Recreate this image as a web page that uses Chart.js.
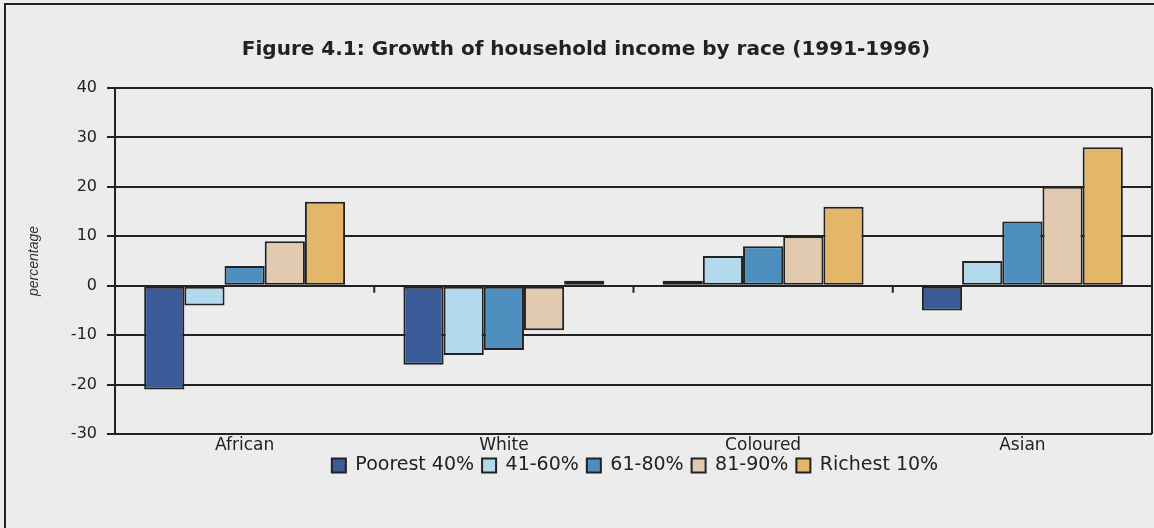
<!DOCTYPE html>
<html>
<head>
<meta charset="utf-8">
<title>Growth of household income by race</title>
<script src="https://cdn.jsdelivr.net/npm/chart.js@4.4.1/dist/chart.umd.min.js"></script>
<style>
  html, body { margin: 0; padding: 0; background: #ececec; }
  #incomeChart { display: block; }
</style>
</head>
<body>
<canvas id="incomeChart" width="1154" height="528"></canvas>
<script>
// categories and income-group series (percentage growth 1991-1996)
const races = ['African', 'White', 'Coloured', 'Asian'];
const groupLabels = ['Poorest 40%', '41-60%', '61-80%', '81-90%', 'Richest 10%'];
const poorest40 = [-21, -16, 1, -5];
const mid41to60 = [-4, -14, 6, 5];
const mid61to80 = [4, -13, 8, 13];
const upper81to90 = [9, -9, 10, 20];
const richest10 = [17, 1, 16, 28];
const yTickValues = [-30, -20, -10, 0, 10, 20, 30, 40];

const groupColours = ['#3b5a98', '#b3d9ec', '#4f8fbf', '#e2cab0', '#e4b66a'];
const seriesValues = [poorest40, mid41to60, mid61to80, upper81to90, richest10];
const ink = '#222222';
const FONT = "'DejaVu Sans', Verdana, sans-serif";

// outer frame, plot right edge and the small tick marks on the zero line
const framePlugin = {
  id: 'frame',
  afterLayout(chart) {
    // legend row sits a little right of centre and close under the labels
    chart.legend.left += 98;
    chart.legend.top -= 8;
    chart.legend.bottom -= 8;
  },
  afterDraw(chart) {
    const { ctx, chartArea, scales } = chart;
    ctx.save();
    ctx.strokeStyle = ink;
    ctx.lineWidth = 2;
    ctx.beginPath();
    ctx.moveTo(5, 528);
    ctx.lineTo(5, 4);
    ctx.lineTo(1154, 4);
    ctx.stroke();

    ctx.beginPath();
    ctx.moveTo(chartArea.right, chartArea.top);
    ctx.lineTo(chartArea.right, chartArea.bottom);
    ctx.stroke();

    const y0 = scales.y.getPixelForValue(0);
    ctx.beginPath();
    for (let i = 0; i < races.length - 1; i++) {
      const x = (scales.x.getPixelForValue(i) + scales.x.getPixelForValue(i + 1)) / 2;
      ctx.moveTo(x, y0);
      ctx.lineTo(x, y0 + 7);
    }
    ctx.stroke();
    ctx.restore();
  }
};

new Chart(document.getElementById('incomeChart'), {
  type: 'bar',
  data: {
    labels: races,
    datasets: groupLabels.map((name, i) => ({
      label: name,
      data: seriesValues[i],
      backgroundColor: groupColours[i],
      borderColor: ink,
      borderWidth: 2,
      borderSkipped: false,
      barPercentage: 1,
      categoryPercentage: 0.775
    }))
  },
  options: {
    responsive: false,
    animation: false,
    layout: { padding: { left: 20, right: 2, top: 0, bottom: 35 } },
    plugins: {
      title: {
        display: true,
        text: 'Figure 4.1: Growth of household income by race (1991-1996)',
        color: ink,
        font: { family: FONT, size: 20, weight: 'bold' },
        padding: { top: 38, bottom: 26 }
      },
      legend: {
        position: 'bottom',
        labels: {
          color: ink,
          font: { family: FONT, size: 19 },
          boxWidth: 14,
          boxHeight: 14,
          padding: 8
        }
      },
      tooltip: { enabled: false }
    },
    scales: {
      x: {
        grid: { display: false, drawTicks: false },
        border: { display: false },
        ticks: { color: ink, font: { family: FONT, size: 17 }, padding: 1 },
        afterFit(scale) { scale.height = 22; }
      },
      y: {
        min: -30,
        max: 40,
        afterBuildTicks(scale) { scale.ticks = yTickValues.map(v => ({ value: v })); },
        grid: { color: ink, lineWidth: 2, tickLength: 8 },
        border: { color: ink, width: 2 },
        ticks: { color: ink, font: { family: FONT, size: 16 }, padding: 10 },
        title: {
          display: true,
          text: 'percentage',
          color: '#333',
          font: { family: "'Liberation Sans', Arial, sans-serif", size: 14, style: 'italic' },
          padding: { top: 6, bottom: 0 }
        },
        afterFit(scale) { scale.width = 95; }
      }
    }
  },
  plugins: [framePlugin]
});
</script>
</body>
</html>
